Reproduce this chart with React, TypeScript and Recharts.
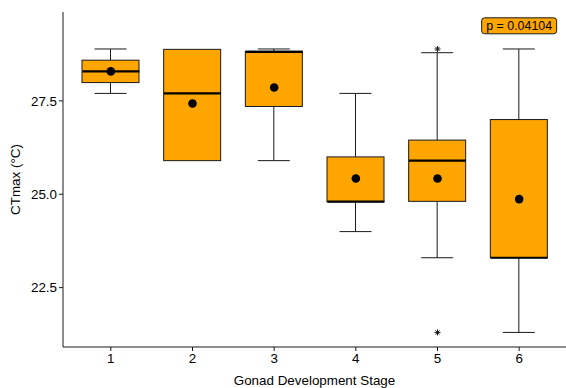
import React from 'react';
import { ComposedChart, Bar, Scatter, XAxis, YAxis, ReferenceDot } from 'recharts';

const stages = ['1', '2', '3', '4', '5', '6'];
const whiskerLow = [27.7, 25.9, 25.9, 24.0, 23.3, 21.3];
const q1 = [27.99, 25.9, 27.35, 24.8, 24.81, 23.3];
const medians = [28.29, 27.7, 28.81, 24.8, 25.9, 23.3];
const q3 = [28.59, 28.88, 28.83, 26.0, 26.45, 27.0];
const whiskerHigh = [28.89, 28.88, 28.89, 27.7, 28.79, 28.89];
const means = [28.29, 27.43, 27.86, 25.42, 25.42, 24.87];
const outlierHigh: (number | null)[] = [null, null, null, null, 28.89, null];
const outlierLow: (number | null)[] = [null, null, null, null, 21.3, null];
const yTicks = [22.5, 25.0, 27.5];
const yDomain = [20.91, 29.88];
const pLabel = 'p = 0.04104';
const pLabelStage = '6';
const pLabelY = 29.51;

const data = stages.map((s, i) => ({
  stage: s,
  base: whiskerLow[i],
  lw: q1[i] - whiskerLow[i],
  box: q3[i] - q1[i],
  uw: whiskerHigh[i] - q3[i],
  median: medians[i],
  mean: means[i],
  outHi: outlierHigh[i],
  outLo: outlierLow[i],
}));

const FONT = 'Liberation Sans, Arial, Helvetica, sans-serif';
const ORANGE = '#FFA500';
const INK = '#1a1a1a';
const BOX_W = 57;
const CAP_W = 32;

const LowerWhisker = (p: any) => {
  const { x, y, width, height } = p;
  if (height == null || !(height > 0.5)) return <g />;
  const cx = x + width / 2;
  return (
    <g>
      <line x1={cx} x2={cx} y1={y} y2={y + height} stroke={INK} strokeWidth={1} />
      <line x1={cx - CAP_W / 2} x2={cx + CAP_W / 2} y1={y + height} y2={y + height} stroke={INK} strokeWidth={1} />
    </g>
  );
};

const UpperWhisker = (p: any) => {
  const { x, y, width, height } = p;
  if (height == null || !(height > 0.5)) return <g />;
  const cx = x + width / 2;
  return (
    <g>
      <line x1={cx} x2={cx} y1={y} y2={y + height} stroke={INK} strokeWidth={1} />
      <line x1={cx - CAP_W / 2} x2={cx + CAP_W / 2} y1={y} y2={y} stroke={INK} strokeWidth={1} />
    </g>
  );
};

const BoxShape = (p: any) => {
  const { x, y, width, height } = p;
  return <rect x={x} y={y} width={width} height={Math.max(height, 0)} fill={ORANGE} stroke={INK} strokeWidth={1} />;
};

const MedianShape = (p: any) => {
  const { cx, cy } = p;
  if (cx == null || cy == null || isNaN(cy)) return <g />;
  return <line x1={cx - BOX_W / 2} x2={cx + BOX_W / 2} y1={cy} y2={cy} stroke="#000" strokeWidth={2.2} />;
};

const MeanShape = (p: any) => {
  const { cx, cy } = p;
  if (cx == null || cy == null || isNaN(cy)) return <g />;
  return <circle cx={cx} cy={cy} r={4.3} fill="#000" />;
};

const StarShape = (p: any) => {
  const { cx, cy, payload, which } = p;
  if (cx == null || cy == null || isNaN(cy)) return <g />;
  if (payload && payload[which] == null) return <g />;
  const r = 3;
  const d = r * 0.707;
  return (
    <g stroke={INK} strokeWidth={1}>
      <line x1={cx - r} x2={cx + r} y1={cy} y2={cy} />
      <line x1={cx} x2={cx} y1={cy - r} y2={cy + r} />
      <line x1={cx - d} x2={cx + d} y1={cy - d} y2={cy + d} />
      <line x1={cx - d} x2={cx + d} y1={cy + d} y2={cy - d} />
    </g>
  );
};

const PLabelShape = (p: any) => {
  const { cx, cy } = p;
  const w = 75;
  const h = 16;
  return (
    <g>
      <rect x={cx - w / 2} y={cy - h / 2} width={w} height={h} rx={3} ry={3} fill={ORANGE} stroke={INK} strokeWidth={1} />
      <text x={cx} y={cy} textAnchor="middle" dominantBaseline="central" fontFamily={FONT} fontSize={12.4} fill="#000">
        {pLabel}
      </text>
    </g>
  );
};

const YLabel = (p: any) => {
  const vb = p.viewBox || { x: 0, y: 12, width: 63, height: 335 };
  const x = vb.x + 15;
  const y = vb.y + vb.height / 2;
  return (
    <text x={x} y={y} transform={`rotate(-90, ${x}, ${y})`} textAnchor="middle" dominantBaseline="central" fontFamily={FONT} fontSize={13.4} fill="#000">
      CTmax (°C)
    </text>
  );
};

export default function App() {
  return (
    <div style={{ position: 'fixed', left: 0, top: 0, width: 566, height: 388, background: '#fff' }}>
      <ComposedChart width={566} height={388} data={data} margin={{ top: 12, right: 0, bottom: 0, left: 0 }} barSize={BOX_W}>
        <XAxis
          dataKey="stage"
          type="category"
          height={41}
          padding={{ left: 7, right: 6 }}
          tickSize={4}
          tickMargin={2}
          tick={{ fontFamily: FONT, fontSize: 13.4, fill: '#000' }}
          axisLine={{ stroke: INK, strokeWidth: 1 }}
          tickLine={{ stroke: INK, strokeWidth: 1 }}
          label={{ value: 'Gonad Development Stage', position: 'insideBottom', offset: 3, fontFamily: FONT, fontSize: 13.4, fill: '#000' }}
        />
        <YAxis
          type="number"
          domain={yDomain}
          allowDataOverflow
          ticks={yTicks}
          tickFormatter={(v: number) => v.toFixed(1)}
          width={63}
          tickSize={4}
          tickMargin={2}
          tick={{ fontFamily: FONT, fontSize: 13.4, fill: '#000' }}
          axisLine={{ stroke: INK, strokeWidth: 1 }}
          tickLine={{ stroke: INK, strokeWidth: 1 }}
          label={<YLabel />}
        />
        <Bar dataKey="base" stackId="b" isAnimationActive={false} shape={() => <g />} />
        <Bar dataKey="lw" stackId="b" isAnimationActive={false} shape={<LowerWhisker />} />
        <Bar dataKey="box" stackId="b" isAnimationActive={false} shape={<BoxShape />} />
        <Bar dataKey="uw" stackId="b" isAnimationActive={false} shape={<UpperWhisker />} />
        <Scatter dataKey="median" isAnimationActive={false} shape={<MedianShape />} />
        <Scatter dataKey="mean" isAnimationActive={false} shape={<MeanShape />} />
        <Scatter dataKey="outHi" isAnimationActive={false} shape={(p: any) => <StarShape {...p} which="outHi" />} />
        <Scatter dataKey="outLo" isAnimationActive={false} shape={(p: any) => <StarShape {...p} which="outLo" />} />
        <ReferenceDot x={pLabelStage} y={pLabelY} shape={<PLabelShape />} />
      </ComposedChart>
    </div>
  );
}
